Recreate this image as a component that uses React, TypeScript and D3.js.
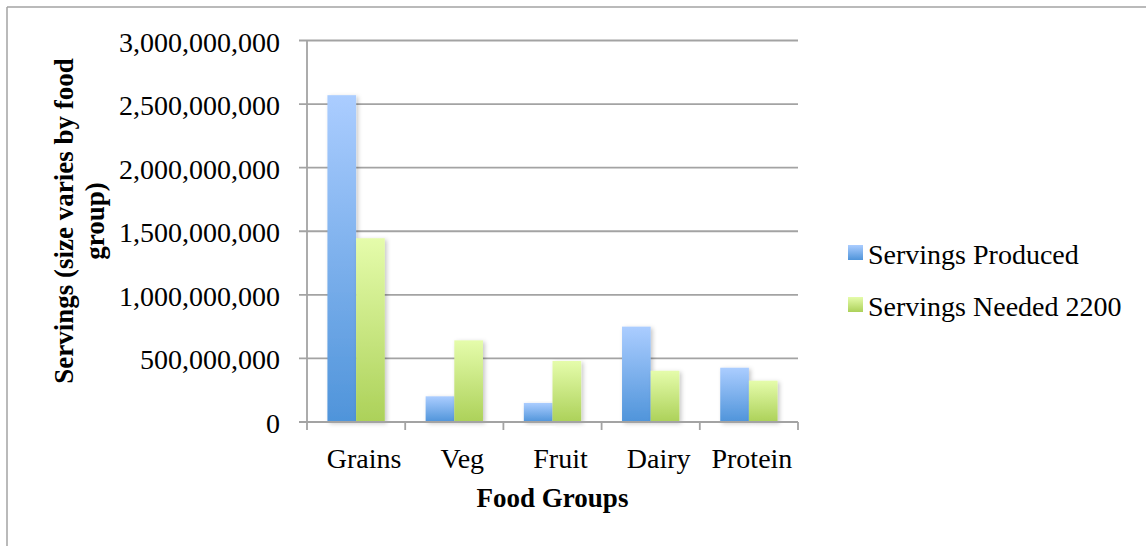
import React from "react";
import * as d3 from "d3";

// Food group servings: produced vs. needed for a 2200-calorie diet
const categories = ["Grains", "Veg", "Fruit", "Dairy", "Protein"];
const seriesNames = ["Servings Produced", "Servings Needed 2200"];
const servingsProduced = [2570000000, 202000000, 150000000, 750000000, 427000000];
const servingsNeeded = [1445000000, 642000000, 480000000, 403000000, 325000000];
const yTicks = [0, 500000000, 1000000000, 1500000000, 2000000000, 2500000000, 3000000000];

const W = 1146;
const H = 546;
const FONT = "'Liberation Serif', 'Times New Roman', serif";
const GRID = "#a3a3a3";

export default function App() {
  const left = 307;
  const right = 798;
  const top = 40.5;
  const bottom = 422;

  const y = d3.scaleLinear().domain([0, 3000000000]).range([bottom, top]);
  const x = d3
    .scaleBand<string>()
    .domain(categories)
    .range([left, right])
    .paddingInner(0.416)
    .paddingOuter(0.208);
  const xCell = d3.scaleBand<string>().domain(categories).range([left, right]).padding(0);
  const xSub = d3.scaleBand<number>().domain([0, 1]).range([0, x.bandwidth()]);
  const fmt = d3.format(",");

  const series = [servingsProduced, servingsNeeded];
  const gradIds = ["gradBlue", "gradGreen"];

  const tickXs = [...categories.map((c) => xCell(c) as number), right];

  return (
    <svg
      width={W}
      height={H}
      style={{ position: "absolute", left: 0, top: 0, background: "#fff" }}
      fontFamily={FONT}
    >
      <defs>
        <linearGradient id="gradBlue" x1="0" y1="0" x2="0" y2="1">
          <stop offset="0" stopColor="#abcdff" />
          <stop offset="1" stopColor="#4f94da" />
        </linearGradient>
        <linearGradient id="gradGreen" x1="0" y1="0" x2="0" y2="1">
          <stop offset="0" stopColor="#e5fcab" />
          <stop offset="1" stopColor="#acd159" />
        </linearGradient>
        <filter id="barShadow" x="-30%" y="-10%" width="160%" height="130%">
          <feDropShadow dx="2" dy="1.5" stdDeviation="2" floodColor="#000" floodOpacity="0.22" />
        </filter>
      </defs>

      {/* outer chart frame */}
      <line x1={7} x2={W} y1={7} y2={7} stroke={GRID} strokeWidth={1.5} />
      <line x1={7} x2={7} y1={7} y2={H} stroke={GRID} strokeWidth={1.5} />

      {/* horizontal gridlines and y tick labels */}
      {yTicks.map((t) => (
        <g key={t}>
          <line x1={left - 8} x2={right} y1={y(t)} y2={y(t)} stroke={GRID} strokeWidth={1.8} />
          <text x={280} y={y(t) + 11} textAnchor="end" fontSize={28} fill="#000">
            {fmt(t)}
          </text>
        </g>
      ))}

      {/* y axis line */}
      <line x1={left} x2={left} y1={top} y2={bottom} stroke={GRID} strokeWidth={1.8} />

      {/* x axis tick marks at category boundaries */}
      {tickXs.map((tx, i) => (
        <line key={i} x1={tx} x2={tx} y1={bottom} y2={bottom + 8} stroke={GRID} strokeWidth={1.8} />
      ))}

      {/* bars */}
      {categories.map((c, ci) => (
        <g key={c} transform={`translate(${x(c)},0)`}>
          {series.map((vals, si) => (
            <rect
              key={si}
              x={xSub(si)}
              y={y(vals[ci])}
              width={xSub.bandwidth()}
              height={y(0) - y(vals[ci])}
              fill={`url(#${gradIds[si]})`}
              filter="url(#barShadow)"
            />
          ))}
        </g>
      ))}

      {/* x axis line drawn over bar bases */}
      <line x1={left - 8} x2={right} y1={bottom} y2={bottom} stroke={GRID} strokeWidth={1.8} />

      {/* category labels */}
      {categories.map((c, i) => (
        <text
          key={c}
          x={(x(c) as number) + x.bandwidth() / 2 + (i === categories.length - 1 ? 3 : 8)}
          y={468}
          textAnchor="middle"
          fontSize={28}
          fill="#000"
        >
          {c}
        </text>
      ))}

      {/* axis titles */}
      <text x={(left + right) / 2} y={506.5} textAnchor="middle" fontSize={27} fontWeight="bold" fill="#000">
        Food Groups
      </text>
      <g transform="translate(73,221) rotate(-90)">
        <text x={0} y={0} textAnchor="middle" fontSize={27} fontWeight="bold" fill="#000">
          Servings (size varies by food
        </text>
        <text x={0} y={31} textAnchor="middle" fontSize={27} fontWeight="bold" fill="#000">
          group)
        </text>
      </g>

      {/* legend */}
      {seriesNames.map((name, i) => (
        <g key={name} transform={`translate(848,${245 + i * 52})`}>
          <rect x={0} y={0} width={15} height={15} fill={`url(#${gradIds[i]})`} />
          <text x={20} y={18.5} fontSize={28} fill="#000">
            {name}
          </text>
        </g>
      ))}
    </svg>
  );
}
